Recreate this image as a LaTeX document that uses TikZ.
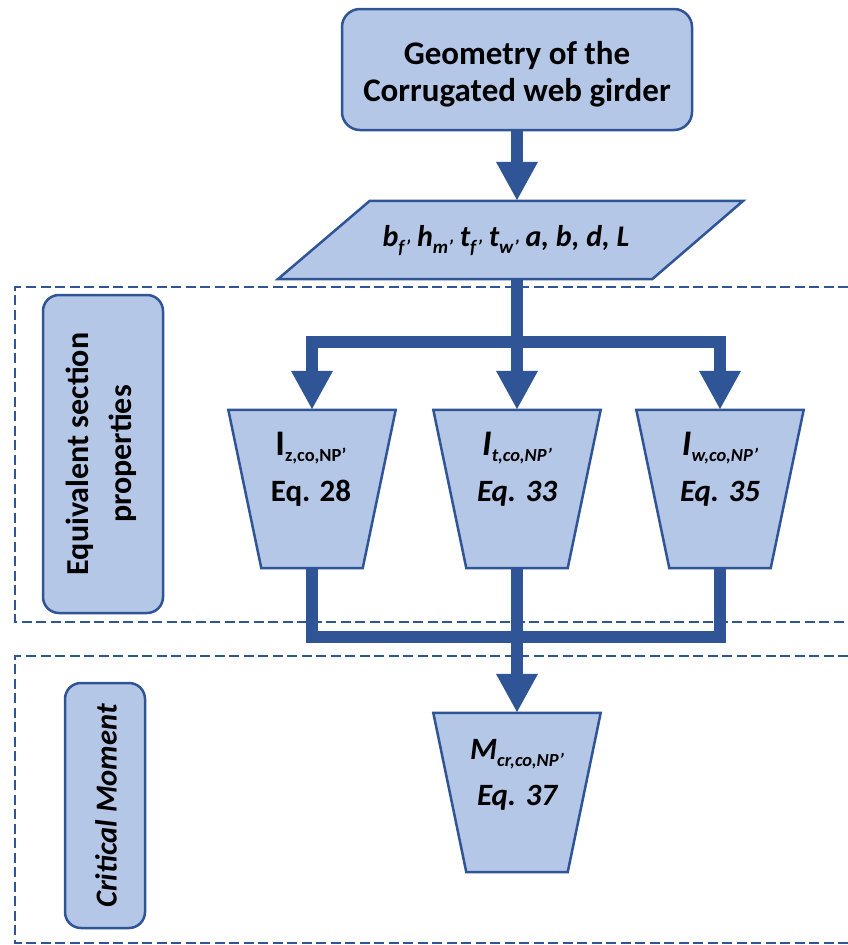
\documentclass[tikz,border=0pt]{standalone}
\usepackage{fontspec}
\setmainfont{Carlito}
\usetikzlibrary{arrows.meta}
\definecolor{fillblue}{HTML}{B4C7E7}
\definecolor{edgeblue}{HTML}{2F5597}
\newcommand{\mysub}[1]{\raisebox{-6.5pt}{\fontsize{18.5}{18.5}\selectfont #1}}
\newcommand{\parsub}[1]{\raisebox{-7pt}{\fontsize{19}{19}\selectfont #1}}
\newcommand{\bigI}{{\fontsize{36}{36}\selectfont I}}
\begin{document}
\begin{tikzpicture}[x=1pt,y=-1pt,
  shapebox/.style={draw=edgeblue,fill=fillblue,line width=2.5pt,line join=miter},
  roundbox/.style={shapebox,rounded corners=18pt,inner sep=0pt},
  trapframe/.style={rectangle,inner sep=0pt,minimum width=167pt,minimum height=158pt},
  flow/.style={draw=edgeblue,line width=12pt},
  flowarrow/.style={flow,-{Triangle[width=39pt,length=39pt]}},
  group/.style={draw=edgeblue,line width=2.8pt,dash pattern=on 10pt off 4.5pt},
  txt/.style={font=\bfseries\fontsize{33}{37}\selectfont,align=center,inner sep=0pt},
  traptxt/.style={font=\bfseries\fontsize{31}{46}\selectfont,align=center,inner sep=0pt},
  traptxtit/.style={font=\bfseries\itshape\fontsize{31}{46}\selectfont,align=center,inner sep=0pt}
]
\useasboundingbox (0,0) rectangle (848,945);

% dashed groups
\draw[group] (848,287) -- (15,287) -- (15,622) -- (848,622);
\draw[group] (848,656) -- (15,656) -- (15,943) -- (848,943);

% left labels
\node[roundbox,rounded corners=16pt,minimum width=120pt,minimum height=318pt] (eqbox) at (103,454) {};
\node[txt,rotate=90,font=\bfseries\fontsize{32}{43}\selectfont] (eqtxt) at (101,454) {Equivalent section\\properties};
\node[roundbox,rounded corners=16pt,minimum width=80pt,minimum height=245pt] (cmbox) at (105,805.5) {};
\node[txt,rotate=90,font=\bfseries\itshape\fontsize{30.5}{36}\selectfont] (cmtxt) at (106,806) {Critical Moment};

% top box
\node[roundbox,minimum width=350pt,minimum height=121pt] (geom) at (517,69.5) {};
\node[txt] (geomtxt) at (517,74) {Geometry of the\\Corrugated web girder};

% parallelogram
\node[rectangle,inner sep=0pt,minimum width=465pt,minimum height=78pt] (par) at (510.5,240) {};
\path[shapebox] ([xshift=92pt]par.north west) -- (par.north east)
  -- ([xshift=-91pt]par.south east) -- (par.south west) -- cycle;
\node[inner sep=0pt,font=\bfseries\itshape\fontsize{30}{34}\selectfont] (partxt) at (506,241)
  {b\parsub{f’} h\parsub{m’} t\parsub{f’} t\parsub{w’} a, b, d, L};

% trapezoids
\node[trapframe] (t1) at (312,489) {};
\node[trapframe] (t2) at (517,489) {};
\node[trapframe] (t3) at (720,489) {};
\node[trapframe,minimum height=159pt] (m) at (517,792.5) {};
\foreach \t in {t1,t2,t3,m}{
  \path[shapebox] (\t.north west) -- (\t.north east)
    -- ([xshift=-33pt]\t.south east) -- ([xshift=33pt]\t.south west) -- cycle;
}

\node[traptxt] (t1txt) at (311,469) {\bigI\mysub{z,co,NP’}\\Eq. 28};
\node[traptxtit] (t2txt) at (517,469) {\bigI\mysub{t,co,NP’}\\Eq. 33};
\node[traptxtit] (t3txt) at (720,469) {\bigI\mysub{w,co,NP’}\\Eq. 35};
\node[traptxtit] (mtxt) at (517,775) {M\mysub{cr,co,NP’}\\Eq. 37};

% connectors
\coordinate (split) at (517,342);
\coordinate (merge) at (517,637);
\draw[flowarrow] (geom.south) -- (geom.south |- par.north);
\draw[flow] (geom.south |- par.south) -- (split);
\draw[flowarrow] (split) -| (t1.north);
\draw[flowarrow] (split) -- (t2.north);
\draw[flowarrow] (split) -| (t3.north);
\draw[flow] (t1.south) |- (merge) -| (t3.south);
\draw[flowarrow] (t2.south) -- (m.north);
\end{tikzpicture}
\end{document}
